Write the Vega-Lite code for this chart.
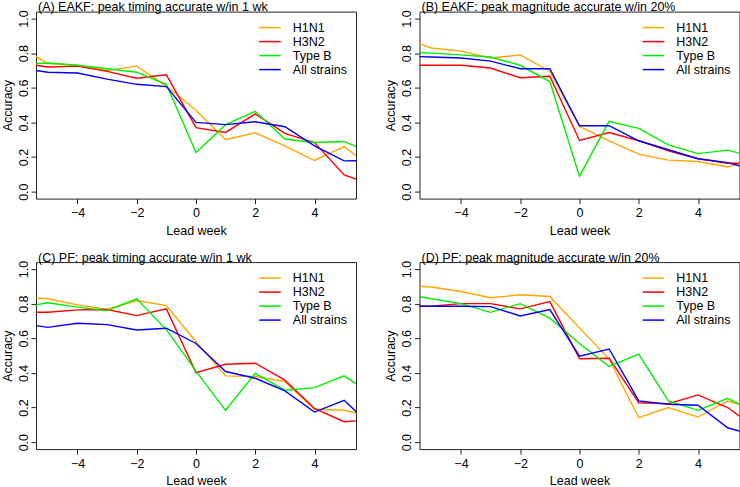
{
"$schema": "https://vega.github.io/schema/vega-lite/v6.json",
"padding": {"left": 0, "top": 0.6, "right": 0, "bottom": 0},
"background": "white",
"datasets": {"acc": [
{"panel":"A","strain":"H1N1","week":-6,"acc":0.84},{"panel":"A","strain":"H1N1","week":-5,"acc":0.74},{"panel":"A","strain":"H1N1","week":-4,"acc":0.73},{"panel":"A","strain":"H1N1","week":-3,"acc":0.70},{"panel":"A","strain":"H1N1","week":-2,"acc":0.725},{"panel":"A","strain":"H1N1","week":-1,"acc":0.61},{"panel":"A","strain":"H1N1","week":0,"acc":0.47},{"panel":"A","strain":"H1N1","week":1,"acc":0.30},{"panel":"A","strain":"H1N1","week":2,"acc":0.34},{"panel":"A","strain":"H1N1","week":3,"acc":0.265},{"panel":"A","strain":"H1N1","week":4,"acc":0.18},{"panel":"A","strain":"H1N1","week":5,"acc":0.26},{"panel":"A","strain":"H1N1","week":6,"acc":0.13},
{"panel":"A","strain":"H3N2","week":-6,"acc":0.745},{"panel":"A","strain":"H3N2","week":-5,"acc":0.72},{"panel":"A","strain":"H3N2","week":-4,"acc":0.725},{"panel":"A","strain":"H3N2","week":-3,"acc":0.695},{"panel":"A","strain":"H3N2","week":-2,"acc":0.655},{"panel":"A","strain":"H3N2","week":-1,"acc":0.675},{"panel":"A","strain":"H3N2","week":0,"acc":0.37},{"panel":"A","strain":"H3N2","week":1,"acc":0.342},{"panel":"A","strain":"H3N2","week":2,"acc":0.449},{"panel":"A","strain":"H3N2","week":3,"acc":0.337},{"panel":"A","strain":"H3N2","week":4,"acc":0.284},{"panel":"A","strain":"H3N2","week":5,"acc":0.097},{"panel":"A","strain":"H3N2","week":6,"acc":0.037},
{"panel":"A","strain":"Type B","week":-6,"acc":0.735},{"panel":"A","strain":"Type B","week":-5,"acc":0.743},{"panel":"A","strain":"Type B","week":-4,"acc":0.73},{"panel":"A","strain":"Type B","week":-3,"acc":0.71},{"panel":"A","strain":"Type B","week":-2,"acc":0.69},{"panel":"A","strain":"Type B","week":-1,"acc":0.62},{"panel":"A","strain":"Type B","week":0,"acc":0.226},{"panel":"A","strain":"Type B","week":1,"acc":0.387},{"panel":"A","strain":"Type B","week":2,"acc":0.464},{"panel":"A","strain":"Type B","week":3,"acc":0.304},{"panel":"A","strain":"Type B","week":4,"acc":0.284},{"panel":"A","strain":"Type B","week":5,"acc":0.29},{"panel":"A","strain":"Type B","week":6,"acc":0.218},
{"panel":"A","strain":"All strains","week":-6,"acc":0.715},{"panel":"A","strain":"All strains","week":-5,"acc":0.69},{"panel":"A","strain":"All strains","week":-4,"acc":0.685},{"panel":"A","strain":"All strains","week":-3,"acc":0.65},{"panel":"A","strain":"All strains","week":-2,"acc":0.62},{"panel":"A","strain":"All strains","week":-1,"acc":0.607},{"panel":"A","strain":"All strains","week":0,"acc":0.40},{"panel":"A","strain":"All strains","week":1,"acc":0.387},{"panel":"A","strain":"All strains","week":2,"acc":0.404},{"panel":"A","strain":"All strains","week":3,"acc":0.375},{"panel":"A","strain":"All strains","week":4,"acc":0.265},{"panel":"A","strain":"All strains","week":5,"acc":0.178},{"panel":"A","strain":"All strains","week":6,"acc":0.18},
{"panel":"B","strain":"H1N1","week":-6,"acc":0.89},{"panel":"B","strain":"H1N1","week":-5,"acc":0.83},{"panel":"B","strain":"H1N1","week":-4,"acc":0.812},{"panel":"B","strain":"H1N1","week":-3,"acc":0.772},{"panel":"B","strain":"H1N1","week":-2,"acc":0.79},{"panel":"B","strain":"H1N1","week":-1,"acc":0.694},{"panel":"B","strain":"H1N1","week":0,"acc":0.377},{"panel":"B","strain":"H1N1","week":1,"acc":0.294},{"panel":"B","strain":"H1N1","week":2,"acc":0.217},{"panel":"B","strain":"H1N1","week":3,"acc":0.182},{"panel":"B","strain":"H1N1","week":4,"acc":0.174},{"panel":"B","strain":"H1N1","week":5,"acc":0.143},{"panel":"B","strain":"H1N1","week":6,"acc":0.195},
{"panel":"B","strain":"H3N2","week":-6,"acc":0.73},{"panel":"B","strain":"H3N2","week":-5,"acc":0.73},{"panel":"B","strain":"H3N2","week":-4,"acc":0.73},{"panel":"B","strain":"H3N2","week":-3,"acc":0.714},{"panel":"B","strain":"H3N2","week":-2,"acc":0.658},{"panel":"B","strain":"H3N2","week":-1,"acc":0.667},{"panel":"B","strain":"H3N2","week":0,"acc":0.296},{"panel":"B","strain":"H3N2","week":1,"acc":0.342},{"panel":"B","strain":"H3N2","week":2,"acc":0.294},{"panel":"B","strain":"H3N2","week":3,"acc":0.236},{"panel":"B","strain":"H3N2","week":4,"acc":0.19},{"panel":"B","strain":"H3N2","week":5,"acc":0.164},{"panel":"B","strain":"H3N2","week":6,"acc":0.164},
{"panel":"B","strain":"Type B","week":-6,"acc":0.81},{"panel":"B","strain":"Type B","week":-5,"acc":0.80},{"panel":"B","strain":"Type B","week":-4,"acc":0.79},{"panel":"B","strain":"Type B","week":-3,"acc":0.778},{"panel":"B","strain":"Type B","week":-2,"acc":0.73},{"panel":"B","strain":"Type B","week":-1,"acc":0.636},{"panel":"B","strain":"Type B","week":0,"acc":0.09},{"panel":"B","strain":"Type B","week":1,"acc":0.406},{"panel":"B","strain":"Type B","week":2,"acc":0.366},{"panel":"B","strain":"Type B","week":3,"acc":0.27},{"panel":"B","strain":"Type B","week":4,"acc":0.22},{"panel":"B","strain":"Type B","week":5,"acc":0.24},{"panel":"B","strain":"Type B","week":6,"acc":0.195},
{"panel":"B","strain":"All strains","week":-6,"acc":0.783},{"panel":"B","strain":"All strains","week":-5,"acc":0.778},{"panel":"B","strain":"All strains","week":-4,"acc":0.772},{"panel":"B","strain":"All strains","week":-3,"acc":0.754},{"panel":"B","strain":"All strains","week":-2,"acc":0.71},{"panel":"B","strain":"All strains","week":-1,"acc":0.71},{"panel":"B","strain":"All strains","week":0,"acc":0.381},{"panel":"B","strain":"All strains","week":1,"acc":0.381},{"panel":"B","strain":"All strains","week":2,"acc":0.294},{"panel":"B","strain":"All strains","week":3,"acc":0.242},{"panel":"B","strain":"All strains","week":4,"acc":0.19},{"panel":"B","strain":"All strains","week":5,"acc":0.168},{"panel":"B","strain":"All strains","week":6,"acc":0.12},
{"panel":"C","strain":"H1N1","week":-6,"acc":0.838},{"panel":"C","strain":"H1N1","week":-5,"acc":0.828},{"panel":"C","strain":"H1N1","week":-4,"acc":0.793},{"panel":"C","strain":"H1N1","week":-3,"acc":0.766},{"panel":"C","strain":"H1N1","week":-2,"acc":0.818},{"panel":"C","strain":"H1N1","week":-1,"acc":0.789},{"panel":"C","strain":"H1N1","week":0,"acc":0.58},{"panel":"C","strain":"H1N1","week":1,"acc":0.383},{"panel":"C","strain":"H1N1","week":2,"acc":0.379},{"panel":"C","strain":"H1N1","week":3,"acc":0.35},{"panel":"C","strain":"H1N1","week":4,"acc":0.19},{"panel":"C","strain":"H1N1","week":5,"acc":0.184},{"panel":"C","strain":"H1N1","week":6,"acc":0.15},
{"panel":"C","strain":"H3N2","week":-6,"acc":0.75},{"panel":"C","strain":"H3N2","week":-5,"acc":0.75},{"panel":"C","strain":"H3N2","week":-4,"acc":0.764},{"panel":"C","strain":"H3N2","week":-3,"acc":0.766},{"panel":"C","strain":"H3N2","week":-2,"acc":0.731},{"panel":"C","strain":"H3N2","week":-1,"acc":0.77},{"panel":"C","strain":"H3N2","week":0,"acc":0.402},{"panel":"C","strain":"H3N2","week":1,"acc":0.45},{"panel":"C","strain":"H3N2","week":2,"acc":0.456},{"panel":"C","strain":"H3N2","week":3,"acc":0.358},{"panel":"C","strain":"H3N2","week":4,"acc":0.195},{"panel":"C","strain":"H3N2","week":5,"acc":0.118},{"panel":"C","strain":"H3N2","week":6,"acc":0.13},
{"panel":"C","strain":"Type B","week":-6,"acc":0.775},{"panel":"C","strain":"Type B","week":-5,"acc":0.805},{"panel":"C","strain":"Type B","week":-4,"acc":0.78},{"panel":"C","strain":"Type B","week":-3,"acc":0.76},{"panel":"C","strain":"Type B","week":-2,"acc":0.828},{"panel":"C","strain":"Type B","week":-1,"acc":0.65},{"panel":"C","strain":"Type B","week":0,"acc":0.41},{"panel":"C","strain":"Type B","week":1,"acc":0.184},{"panel":"C","strain":"Type B","week":2,"acc":0.397},{"panel":"C","strain":"Type B","week":3,"acc":0.30},{"panel":"C","strain":"Type B","week":4,"acc":0.315},{"panel":"C","strain":"Type B","week":5,"acc":0.383},{"panel":"C","strain":"Type B","week":6,"acc":0.27},
{"panel":"C","strain":"All strains","week":-6,"acc":0.688},{"panel":"C","strain":"All strains","week":-5,"acc":0.663},{"panel":"C","strain":"All strains","week":-4,"acc":0.687},{"panel":"C","strain":"All strains","week":-3,"acc":0.679},{"panel":"C","strain":"All strains","week":-2,"acc":0.648},{"panel":"C","strain":"All strains","week":-1,"acc":0.658},{"panel":"C","strain":"All strains","week":0,"acc":0.57},{"panel":"C","strain":"All strains","week":1,"acc":0.408},{"panel":"C","strain":"All strains","week":2,"acc":0.369},{"panel":"C","strain":"All strains","week":3,"acc":0.296},{"panel":"C","strain":"All strains","week":4,"acc":0.174},{"panel":"C","strain":"All strains","week":5,"acc":0.242},{"panel":"C","strain":"All strains","week":6,"acc":0.08},
{"panel":"D","strain":"H1N1","week":-6,"acc":0.906},{"panel":"D","strain":"H1N1","week":-5,"acc":0.896},{"panel":"D","strain":"H1N1","week":-4,"acc":0.87},{"panel":"D","strain":"H1N1","week":-3,"acc":0.834},{"panel":"D","strain":"H1N1","week":-2,"acc":0.851},{"panel":"D","strain":"H1N1","week":-1,"acc":0.841},{"panel":"D","strain":"H1N1","week":0,"acc":0.66},{"panel":"D","strain":"H1N1","week":1,"acc":0.48},{"panel":"D","strain":"H1N1","week":2,"acc":0.141},{"panel":"D","strain":"H1N1","week":3,"acc":0.20},{"panel":"D","strain":"H1N1","week":4,"acc":0.145},{"panel":"D","strain":"H1N1","week":5,"acc":0.238},{"panel":"D","strain":"H1N1","week":6,"acc":0.19},
{"panel":"D","strain":"H3N2","week":-6,"acc":0.785},{"panel":"D","strain":"H3N2","week":-5,"acc":0.785},{"panel":"D","strain":"H3N2","week":-4,"acc":0.80},{"panel":"D","strain":"H3N2","week":-3,"acc":0.80},{"panel":"D","strain":"H3N2","week":-2,"acc":0.77},{"panel":"D","strain":"H3N2","week":-1,"acc":0.812},{"panel":"D","strain":"H3N2","week":0,"acc":0.482},{"panel":"D","strain":"H3N2","week":1,"acc":0.485},{"panel":"D","strain":"H3N2","week":2,"acc":0.228},{"panel":"D","strain":"H3N2","week":3,"acc":0.222},{"panel":"D","strain":"H3N2","week":4,"acc":0.273},{"panel":"D","strain":"H3N2","week":5,"acc":0.20},{"panel":"D","strain":"H3N2","week":6,"acc":0.078},
{"panel":"D","strain":"Type B","week":-6,"acc":0.86},{"panel":"D","strain":"Type B","week":-5,"acc":0.828},{"panel":"D","strain":"Type B","week":-4,"acc":0.80},{"panel":"D","strain":"Type B","week":-3,"acc":0.75},{"panel":"D","strain":"Type B","week":-2,"acc":0.80},{"panel":"D","strain":"Type B","week":-1,"acc":0.716},{"panel":"D","strain":"Type B","week":0,"acc":0.57},{"panel":"D","strain":"Type B","week":1,"acc":0.437},{"panel":"D","strain":"Type B","week":2,"acc":0.509},{"panel":"D","strain":"Type B","week":3,"acc":0.238},{"panel":"D","strain":"Type B","week":4,"acc":0.184},{"panel":"D","strain":"Type B","week":5,"acc":0.253},{"panel":"D","strain":"Type B","week":6,"acc":0.168},
{"panel":"D","strain":"All strains","week":-6,"acc":0.785},{"panel":"D","strain":"All strains","week":-5,"acc":0.785},{"panel":"D","strain":"All strains","week":-4,"acc":0.785},{"panel":"D","strain":"All strains","week":-3,"acc":0.783},{"panel":"D","strain":"All strains","week":-2,"acc":0.729},{"panel":"D","strain":"All strains","week":-1,"acc":0.766},{"panel":"D","strain":"All strains","week":0,"acc":0.497},{"panel":"D","strain":"All strains","week":1,"acc":0.538},{"panel":"D","strain":"All strains","week":2,"acc":0.238},{"panel":"D","strain":"All strains","week":3,"acc":0.219},{"panel":"D","strain":"All strains","week":4,"acc":0.213},{"panel":"D","strain":"All strains","week":5,"acc":0.083},{"panel":"D","strain":"All strains","week":6,"acc":0.035}
]},
"data": {"name": "acc"},
"columns": 2,
"bounds": "flush",
"spacing": {"row": 63.5, "column": 63.5},
"resolve": {"legend": {"color": "independent"}},
"concat": [
{"width": 320, "height": 187, "title": {"text": "(A) EAKF: peak timing accurate w/in 1 wk"},
 "transform": [{"filter": {"field": "panel", "equal": "A"}}],
 "mark": {"type": "line", "clip": true, "strokeWidth": 1.4},
 "encoding": {
  "x": {"field": "week", "type": "quantitative", "scale": {"domain": [-5.4, 5.4], "nice": false, "zero": false}, "axis": {"values": [-4, -2, 0, 2, 4], "title": "Lead week"}},
  "y": {"field": "acc", "type": "quantitative", "scale": {"domain": [-0.04, 1.04], "nice": false, "zero": false}, "axis": {"values": [0, 0.2, 0.4, 0.6, 0.8, 1], "format": ".1f", "labelAngle": -90, "title": "Accuracy"}},
  "color": {"field": "strain", "type": "nominal", "sort": null, "scale": {"domain": ["H1N1", "H3N2", "Type B", "All strains"], "range": ["#FFA500", "#FF0000", "#00EE00", "#0000FF"]}, "legend": {"orient": "top-right", "title": null}}
 }},
{"width": 320, "height": 187, "title": {"text": "(B) EAKF: peak magnitude accurate w/in 20%"},
 "transform": [{"filter": {"field": "panel", "equal": "B"}}],
 "mark": {"type": "line", "clip": true, "strokeWidth": 1.4},
 "encoding": {
  "x": {"field": "week", "type": "quantitative", "scale": {"domain": [-5.4, 5.4], "nice": false, "zero": false}, "axis": {"values": [-4, -2, 0, 2, 4], "title": "Lead week"}},
  "y": {"field": "acc", "type": "quantitative", "scale": {"domain": [-0.04, 1.04], "nice": false, "zero": false}, "axis": {"values": [0, 0.2, 0.4, 0.6, 0.8, 1], "format": ".1f", "labelAngle": -90, "title": "Accuracy"}},
  "color": {"field": "strain", "type": "nominal", "sort": null, "scale": {"domain": ["H1N1", "H3N2", "Type B", "All strains"], "range": ["#FFA500", "#FF0000", "#00EE00", "#0000FF"]}, "legend": {"orient": "top-right", "title": null}}
 }},
{"width": 320, "height": 187, "title": {"text": "(C) PF: peak timing accurate w/in 1 wk"},
 "transform": [{"filter": {"field": "panel", "equal": "C"}}],
 "mark": {"type": "line", "clip": true, "strokeWidth": 1.4},
 "encoding": {
  "x": {"field": "week", "type": "quantitative", "scale": {"domain": [-5.4, 5.4], "nice": false, "zero": false}, "axis": {"values": [-4, -2, 0, 2, 4], "title": "Lead week"}},
  "y": {"field": "acc", "type": "quantitative", "scale": {"domain": [-0.04, 1.04], "nice": false, "zero": false}, "axis": {"values": [0, 0.2, 0.4, 0.6, 0.8, 1], "format": ".1f", "labelAngle": -90, "title": "Accuracy"}},
  "color": {"field": "strain", "type": "nominal", "sort": null, "scale": {"domain": ["H1N1", "H3N2", "Type B", "All strains"], "range": ["#FFA500", "#FF0000", "#00EE00", "#0000FF"]}, "legend": {"orient": "top-right", "title": null}}
 }},
{"width": 320, "height": 187, "title": {"text": "(D) PF: peak magnitude accurate w/in 20%"},
 "transform": [{"filter": {"field": "panel", "equal": "D"}}],
 "mark": {"type": "line", "clip": true, "strokeWidth": 1.4},
 "encoding": {
  "x": {"field": "week", "type": "quantitative", "scale": {"domain": [-5.4, 5.4], "nice": false, "zero": false}, "axis": {"values": [-4, -2, 0, 2, 4], "title": "Lead week"}},
  "y": {"field": "acc", "type": "quantitative", "scale": {"domain": [-0.04, 1.04], "nice": false, "zero": false}, "axis": {"values": [0, 0.2, 0.4, 0.6, 0.8, 1], "format": ".1f", "labelAngle": -90, "title": "Accuracy"}},
  "color": {"field": "strain", "type": "nominal", "sort": null, "scale": {"domain": ["H1N1", "H3N2", "Type B", "All strains"], "range": ["#FFA500", "#FF0000", "#00EE00", "#0000FF"]}, "legend": {"orient": "top-right", "title": null}}
 }}
],
"config": {
 "font": "Liberation Sans",
 "view": {"stroke": "#222222", "strokeWidth": 1},
 "axis": {"grid": false, "domain": false, "ticks": true, "tickSize": 5, "tickColor": "#222222", "labelColor": "#000000", "titleColor": "#000000", "labelFontSize": 12.5, "titleFontSize": 12.5, "titleFontWeight": "normal", "labelPadding": 3},
 "axisX": {"titlePadding": 5},
 "axisY": {"titlePadding": 3, "labelPadding": 1},
 "legend": {"symbolType": "M-1.8,0H1.8", "symbolSize": 144, "symbolStrokeWidth": 1.5, "labelFontSize": 12.5, "labelColor": "#000000", "labelOffset": 15.8, "rowPadding": -1, "offset": 9, "padding": 0},
 "title": {"anchor": "start", "frame": "group", "fontSize": 12.5, "fontWeight": "normal", "color": "#000000", "offset": -4, "dx": 2, "baseline": "alphabetic"}
}
}
